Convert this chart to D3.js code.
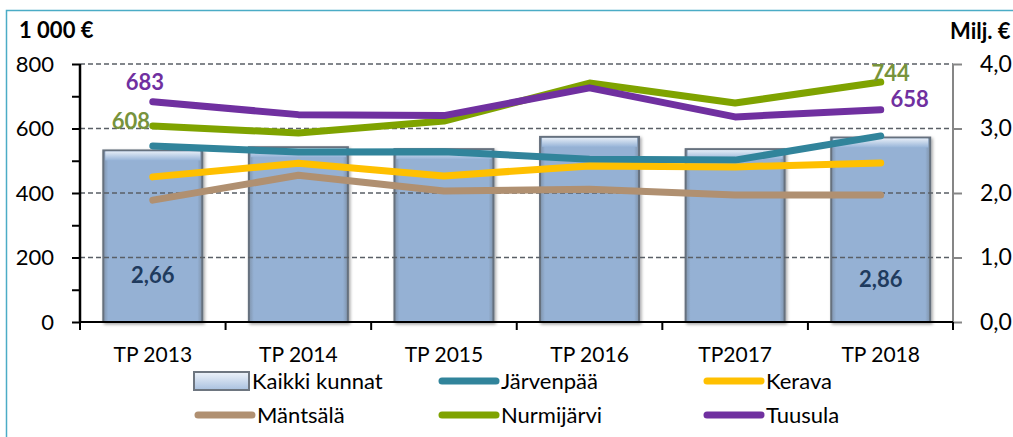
<!DOCTYPE html>
<html>
<head>
<meta charset="utf-8">
<script src="https://cdn.jsdelivr.net/npm/d3@7"></script>
<style>
  body { margin: 0; background: #fff; }
  text { font-family: Lato, "Open Sans", sans-serif; }
</style>
</head>
<body>
<div id="canvas"></div>
<script>
"use strict"
// canvas size
let svgWidth = 1013;
let svgHeight = 437;

// data (left axis: 1 000 €, right axis: Milj. €)
let years = ["TP 2013", "TP 2014", "TP 2015", "TP 2016", "TP2017", "TP 2018"];
let kaikkiKunnat = [2.66, 2.71, 2.68, 2.87, 2.68, 2.86];
let jarvenpaa = [546, 527, 528, 505, 502, 577];
let kerava = [450, 492, 453, 484, 481, 493];
let mantsala = [378, 455, 406, 412, 394, 394];
let nurmijarvi = [608, 586, 623, 741, 679, 744];
let tuusula = [683, 643, 640, 726, 636, 658];
let leftTicks = [0, 200, 400, 600, 800];
let rightTicks = [0, 1, 2, 3, 4];

let series = [
    { name: "Järvenpää", values: jarvenpaa, color: "#31849b" },
    { name: "Kerava", values: kerava, color: "#ffc000" },
    { name: "Mäntsälä", values: mantsala, color: "#b09071" },
    { name: "Nurmijärvi", values: nurmijarvi, color: "#7fa300" },
    { name: "Tuusula", values: tuusula, color: "#7030a0" }
];

let margin = { top: 64, right: 60, bottom: 115, left: 80 };

let svg = d3.select("#canvas")
    .append("svg")
    .attr("width", svgWidth)
    .attr("height", svgHeight)

svg.append("rect")
    .attr("width", svgWidth)
    .attr("height", svgHeight)
    .attr("fill", "#ffffff")

// frame lines (left + top)
svg.append("path")
    .attr("d", "M6.5," + svgHeight + "V10.5H" + svgWidth)
    .attr("fill", "none")
    .attr("stroke", "#4bacc6")
    .attr("stroke-width", 1.5)

// scales
let plotRight = svgWidth - margin.right;
let plotBottom = svgHeight - margin.bottom;

let xScale = d3.scaleBand()
    .domain(years)
    .range([margin.left, plotRight + 0.5])
    .padding(0)

let yLeft = d3.scaleLinear()
    .domain([0, 800])
    .range([plotBottom, margin.top])

let yRight = d3.scaleLinear()
    .domain([0, 4])
    .range([plotBottom, margin.top])

// gradients
let defs = svg.append("defs");

let bevel = defs.append("linearGradient")
    .attr("id", "bevel")
    .attr("x1", "0%").attr("x2", "0%")
    .attr("y1", "0%").attr("y2", "100%");
bevel.append("stop").attr("offset", "0%").attr("stop-color", "#e4ecf6");
bevel.append("stop").attr("offset", "100%").attr("stop-color", "#97b4d8");

let sideShade = defs.append("linearGradient")
    .attr("id", "sideShade")
    .attr("x1", "0%").attr("x2", "100%")
    .attr("y1", "0%").attr("y2", "0%");
sideShade.append("stop").attr("offset", "0%").attr("stop-color", "#7f93ab");
sideShade.append("stop").attr("offset", "5%").attr("stop-color", "#95b1d4");
sideShade.append("stop").attr("offset", "95%").attr("stop-color", "#95b1d4");
sideShade.append("stop").attr("offset", "100%").attr("stop-color", "#7f93ab");

let legendGrad = defs.append("linearGradient")
    .attr("id", "legendGrad")
    .attr("x1", "0%").attr("x2", "0%")
    .attr("y1", "0%").attr("y2", "100%");
legendGrad.append("stop").attr("offset", "0%").attr("stop-color", "#eef3fa");
legendGrad.append("stop").attr("offset", "100%").attr("stop-color", "#a9c1df");

let shadow = defs.append("filter").attr("id", "shadow")
    .attr("x", "-10%").attr("y", "-10%").attr("width", "130%").attr("height", "130%");
shadow.append("feDropShadow")
    .attr("dx", 1.5).attr("dy", 1.5).attr("stdDeviation", 1.5)
    .attr("flood-color", "#000").attr("flood-opacity", 0.35);

// bars (right axis)
let barW = xScale.bandwidth() * 0.68;

let bars = svg.append("g").selectAll("g.bar")
    .data(kaikkiKunnat)
    .join("g")
    .attr("class", "bar");

bars.append("rect")
    .attr("x", (d, i) => xScale(years[i]) + (xScale.bandwidth() - barW) / 2)
    .attr("y", d => yRight(d))
    .attr("width", barW)
    .attr("height", d => plotBottom - yRight(d))
    .attr("fill", "url(#sideShade)")
    .attr("stroke", "#66717e")
    .attr("stroke-width", 2)
    .attr("filter", "url(#shadow)");

bars.append("rect")
    .attr("x", (d, i) => xScale(years[i]) + (xScale.bandwidth() - barW) / 2 + 2)
    .attr("y", d => yRight(d) + 1)
    .attr("width", barW - 4)
    .attr("height", 9)
    .attr("fill", "url(#bevel)");

// gridlines
svg.append("g").selectAll("line")
    .data(leftTicks.filter(d => d > 0))
    .join("line")
    .attr("x1", margin.left)
    .attr("x2", plotRight)
    .attr("y1", d => yLeft(d))
    .attr("y2", d => yLeft(d))
    .attr("stroke", "#5a5f66")
    .attr("stroke-width", 1.5)
    .attr("stroke-dasharray", "5,3");

// lines
let line = d3.line()
    .x((d, i) => xScale(years[i]) + xScale.bandwidth() / 2)
    .y(d => yLeft(d));

svg.append("g").selectAll("path")
    .data(series)
    .join("path")
    .attr("d", d => line(d.values))
    .attr("fill", "none")
    .attr("stroke", d => d.color)
    .attr("stroke-width", 7)
    .attr("stroke-linecap", "round")
    .attr("stroke-linejoin", "round");

// left axis
let leftAxis = d3.axisLeft(yLeft)
    .tickValues(d3.range(0, 801, 100))
    .tickSize(8)
    .tickFormat(d => leftTicks.includes(d) ? d : "");

let gL = svg.append("g")
    .attr("transform", "translate(" + margin.left + ",0)")
    .call(leftAxis);
gL.select(".domain").attr("stroke", "#000").attr("stroke-width", 2.5).attr("d", "M0," + margin.top + "V" + plotBottom);
gL.selectAll(".tick line").attr("stroke", "#000").attr("stroke-width", 2);
gL.selectAll(".tick text")
    .attr("x", -26)
    .style("font-size", "22px")
    .attr("fill", "#000");

// right axis
let rightAxis = d3.axisRight(yRight)
    .tickValues(rightTicks)
    .tickSize(9)
    .tickFormat(d => d3.format(".1f")(d).replace(".", ","));

let gR = svg.append("g")
    .attr("transform", "translate(" + plotRight + ",0)")
    .call(rightAxis);
gR.select(".domain").attr("stroke", "#868686").attr("stroke-width", 2).attr("d", "M0," + margin.top + "V" + plotBottom);
gR.selectAll(".tick line").attr("stroke", "#868686").attr("stroke-width", 2);
gR.selectAll(".tick text")
    .attr("x", 27)
    .style("font-size", "23px")
    .attr("fill", "#000");

// bottom axis
let gB = svg.append("g")
    .attr("transform", "translate(0," + plotBottom + ")")
    .call(d3.axisBottom(xScale).tickSize(0));
gB.select(".domain").remove();
gB.append("line")
    .attr("x1", margin.left).attr("x2", plotRight)
    .attr("stroke", "#000").attr("stroke-width", 2);
gB.selectAll(".sep")
    .data(d3.range(years.length + 1))
    .join("line")
    .attr("class", "sep")
    .attr("x1", i => i < years.length ? xScale(years[i]) : plotRight)
    .attr("x2", i => i < years.length ? xScale(years[i]) : plotRight)
    .attr("y1", 0).attr("y2", 8)
    .attr("stroke", "#000").attr("stroke-width", 2);
gB.selectAll(".tick text")
    .attr("y", 25)
    .style("font-size", "21px")
    .attr("fill", "#000");

// axis titles
svg.append("text")
    .attr("x", 19).attr("y", 38)
    .style("font-size", "22px").style("font-weight", "bold")
    .text("1 000 €");

svg.append("text")
    .attr("x", 950).attr("y", 39)
    .style("font-size", "22px").style("font-weight", "bold")
    .text("Milj. €");

// data labels
let last = years.length - 1;
function cx(i) { return xScale(years[i]) + xScale.bandwidth() / 2; }

let labels = [
    { text: String(tuusula[0]), x: cx(0) - 8, y: yLeft(tuusula[0]) - 12, color: "#7030a0" },
    { text: String(nurmijarvi[0]), x: cx(0) - 22, y: yLeft(nurmijarvi[0]) + 3, color: "#77933c" },
    { text: String(nurmijarvi[last]), x: cx(last) + 10, y: yLeft(nurmijarvi[last]) - 1, color: "#77933c" },
    { text: String(tuusula[last]), x: cx(last) + 29, y: yLeft(tuusula[last]) - 3, color: "#7030a0" },
    { text: d3.format(".2f")(kaikkiKunnat[0]).replace(".", ","), x: cx(0), y: yRight(0.6), color: "#1f3b5e" },
    { text: d3.format(".2f")(kaikkiKunnat[last]).replace(".", ","), x: cx(last), y: yRight(0.55), color: "#1f3b5e" }
];

svg.append("g").selectAll("text")
    .data(labels)
    .join("text")
    .attr("x", d => d.x)
    .attr("y", d => d.y)
    .attr("text-anchor", "middle")
    .attr("fill", d => d.color)
    .style("font-size", "22px")
    .style("font-weight", "bold")
    .text(d => d.text);

// legend
let legendItems = [{ name: "Kaikki kunnat", bar: true }].concat(series);
let legendCols = [194, 438, 703];
let legendRows = [381, 415];

let leg = svg.append("g").selectAll("g")
    .data(legendItems)
    .join("g")
    .attr("transform", (d, i) => "translate(" + legendCols[i % 3] + "," + legendRows[Math.floor(i / 3)] + ")");

leg.filter(d => d.bar).append("rect")
    .attr("x", 0).attr("y", -9)
    .attr("width", 55).attr("height", 18)
    .attr("fill", "url(#legendGrad)")
    .attr("stroke", "#6e7680")
    .attr("stroke-width", 2);

leg.filter(d => !d.bar).append("line")
    .attr("x1", 4).attr("x2", 58)
    .attr("stroke", d => d.color)
    .attr("stroke-width", 7)
    .attr("stroke-linecap", "round");

leg.append("text")
    .attr("x", d => d.bar ? 58 : 63)
    .attr("y", 8)
    .style("font-size", "22px")
    .attr("fill", "#000")
    .text(d => d.name);
</script>
</body>
</html>
